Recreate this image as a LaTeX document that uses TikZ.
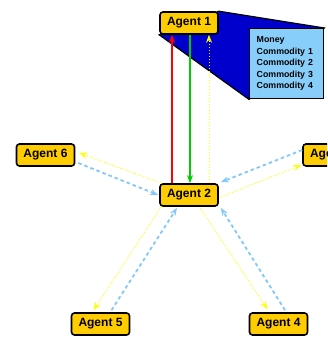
\documentclass[tikz,border=0pt]{standalone}
\usepackage{fontspec}
\setmainfont{Liberation Sans}
\usetikzlibrary{arrows.meta,calc,backgrounds}

\definecolor{agentgold}{RGB}{255,204,0}
\definecolor{infoblue}{RGB}{135,206,250}
\definecolor{callblue}{RGB}{0,0,204}
\definecolor{flowblue}{RGB}{130,200,250}
\definecolor{flowyellow}{RGB}{255,255,0}
\definecolor{goodsgreen}{RGB}{0,204,0}

\begin{document}
\begin{tikzpicture}[x=1pt,y=-1pt,
  %% style definitions
  agent/.style  = {draw, line width=1.6pt, rounded corners=3pt, fill=agentgold,
                   minimum width=58pt, minimum height=22pt, inner sep=0pt,
                   font=\fontsize{12}{14}\selectfont\bfseries},
  info/.style   = {draw, line width=1.4pt, fill=infoblue, anchor=north west,
                   minimum width=74pt, minimum height=70pt, text width=60pt,
                   inner xsep=7pt, align=left,
                   font=\fontsize{8.8}{11.5}\selectfont\bfseries},
  money/.style  = {-{Stealth[length=8pt,width=6pt]}, line width=1.4pt, red},
  goods/.style  = {-{Stealth[length=8pt,width=6pt]}, line width=1.4pt, goodsgreen},
  offer/.style  = {-{Stealth[length=8pt,width=6pt]}, line width=1pt, dotted, flowyellow},
  reply/.style  = {-{Stealth[length=8pt,width=6pt]}, line width=1.8pt,
                   dash pattern=on 3.5pt off 3pt, flowblue},
]

\clip (0,0) rectangle (327,339);

%% ── Agents ───────────────────────────────────────────────────────────────────
\node[agent] (ag1) at (189,23)    {Agent 1};
\node[agent] (ag2) at (189,195)   {Agent 2};
\node[agent] (ag3) at (332,155)   {Agent 3};
\node[agent] (ag4) at (278.5,324) {Agent 4};
\node[agent] (ag5) at (100.5,324) {Agent 5};
\node[agent] (ag6) at (45.5,155)  {Agent 6};

%% ── Holdings of Agent 1 ──────────────────────────────────────────────────────
\node[info] (hold) at (249,28)
  {Money\\Commodity 1\\Commodity 2\\Commodity 3\\Commodity 4};

\begin{scope}[on background layer]
  \draw[line width=1.2pt, fill=callblue]
    (ag1.north east) -- (hold.north east) -- (hold.south west) -- (ag1.south west) -- cycle;
\end{scope}

%% ── Exchange between Agent 1 and Agent 2 ────────────────────────────────────
\draw[money] ($(ag2.north)+(-17,0)$) -- ($(ag1.south)+(-17,0)$);
\draw[goods] ($(ag1.south)+(1,0)$)   -- ($(ag2.north)+(1,0)$);
\draw[offer] ($(ag2.north)+(20,0)$)  -- ($(ag1.south)+(20,0)$);

%% ── Messages to the other agents ────────────────────────────────────────────
\draw[offer] ($(ag2.north west)+(2,0)$) -- ($(ag6.east)+(4,-2)$);
\draw[reply] ($(ag6.east)+(3,8)$)       -- ($(ag2.west)+(-1,0)$);

\draw[reply] ($(ag3.west)+(0,-5)$)      -- ($(ag2.north east)+(2,-1)$);
\draw[offer] ($(ag2.east)+(2,2)$)       -- ($(ag3.west)+(-1,10)$);

\draw[offer] ($(ag2.south west)+(2,0)$) -- ($(ag5.north)+(-7,-2)$);
\draw[reply] ($(ag5.north)+(11,-2)$)    -- ($(ag2.south)+(-12,1)$);

\draw[offer] ($(ag2.south)+(11,1)$)     -- ($(ag4.north)+(-11,-3)$);
\draw[reply] ($(ag4.north)+(6.5,-2)$)   -- ($(ag2.south east)+(2,1)$);

\end{tikzpicture}
\end{document}
